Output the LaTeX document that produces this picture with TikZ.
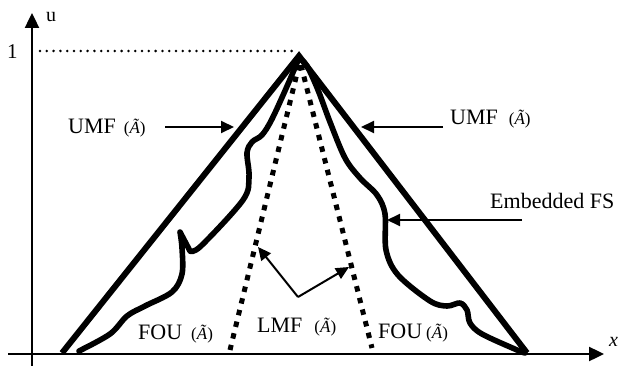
\documentclass[tikz,border=0pt]{standalone}
\usepackage{fontspec}
\setmainfont{Liberation Serif}
\usetikzlibrary{arrows.meta}

% size of the small "(A~)" tags
\newcommand{\tagA}{{\fontsize{17}{17}\selectfont(\textit{Ã})}}

\tikzset{
  axisline/.style={line width=2.4pt, -{Triangle[length=15pt,width=14pt]}},
  umfline/.style={line width=6pt, line join=miter},
  fsline/.style={line width=5.6pt, line join=round, line cap=round},
  lmfline/.style={line width=5pt, dash pattern=on 5.5pt off 6.5pt},
  levelline/.style={line width=2.8pt, line cap=round, dash pattern=on 0pt off 6.8pt},
  pointer/.style={line width=2pt, -{Triangle[length=13pt,width=12pt]}},
  lbl/.style={font=\fontsize{22}{22}\selectfont, inner sep=0pt, anchor=base west},
}

\begin{document}
\begin{tikzpicture}[x=1pt,y=-1pt]
\useasboundingbox (0,0) rectangle (620,366);

% axes
\coordinate (yb) at (32,366);
\coordinate (yt) at (32,13);
\coordinate (xl) at (8,354);
\coordinate (xr) at (604,354);
\draw[axisline] (yb) -- (yt);
\draw[axisline] (xl) -- (xr);
\node[lbl, font=\fontsize{20}{20}\selectfont] (ulab) at (46,22) {u};
\node[lbl, font=\fontsize{21}{21}\selectfont] (onelab) at (7,59) {1};
\node[lbl, font=\fontsize{20}{20}\selectfont\itshape] (xlab) at (609,346) {x};

% level of membership 1
\coordinate (lv0) at (40,51);
\coordinate (lv1) at (295,51);
\draw[levelline] (lv0) -- (lv1);

% upper membership function
\coordinate (apex) at (299,56);
\coordinate (uL) at (62,353);
\coordinate (uR) at (527,353);
\draw[umfline] (uL) -- (apex) -- (uR);

% lower membership function
\coordinate (lTop) at (299,65);
\coordinate (lL) at (230,350);
\coordinate (rTop) at (301,65);
\coordinate (lR) at (372,348);
\draw[lmfline] (lTop) -- (lL);
\draw[lmfline] (rTop) -- (lR);

% embedded fuzzy set
\draw[fsline] plot[smooth, tension=0.55] coordinates {
  (79,351) (110,334) (127,316) (145,306) (172,292) (182,274) (182,248) (180,232)}
  -- (190,251)
  plot[smooth, tension=0.55] coordinates {
  (190,251) (201,246) (243,200) (249,177) (247,153) (252,142) (262,135)
  (272,119) (288,84) (299,58)}
  plot[smooth, tension=0.55] coordinates {
  (299,58) (307,66) (318,90) (330,122) (345,158) (360,178) (377,195)
  (385,214) (386,250) (398,275) (430,301) (447,306) (460,303) (467,310)
  (470,323) (482,334) (517,350) (525,353)};

% labels and pointers
\node[lbl] (umfl) at (68,134) {UMF\hspace{8pt}\tagA};
\coordinate (p1a) at (165,127);
\coordinate (p1b) at (234,127);
\draw[pointer] (p1a) -- (p1b);

\node[lbl] (umfr) at (450,125) {UMF\hspace{11pt}\tagA};
\coordinate (p2a) at (443,127);
\coordinate (p2b) at (361,127);
\draw[pointer] (p2a) -- (p2b);

\node[lbl] (efs) at (490,208) {Embedded FS};
\coordinate (p3a) at (522,220);
\coordinate (p3b) at (387,220);
\draw[pointer] (p3a) -- (p3b);

\node[lbl] (lmf) at (257,332) {LMF\hspace{12pt}\tagA};
\coordinate (lmfv) at (298,297);
\coordinate (lmfa) at (258,247);
\coordinate (lmfb) at (349,267);
\draw[pointer] (lmfv) -- (lmfa);
\draw[pointer] (lmfv) -- (lmfb);

\node[lbl] (foul) at (138,339) {FOU\hspace{9pt}\tagA};
\node[lbl] (four) at (378,338) {FOU\hspace{4pt}\tagA};

\end{tikzpicture}
\end{document}
